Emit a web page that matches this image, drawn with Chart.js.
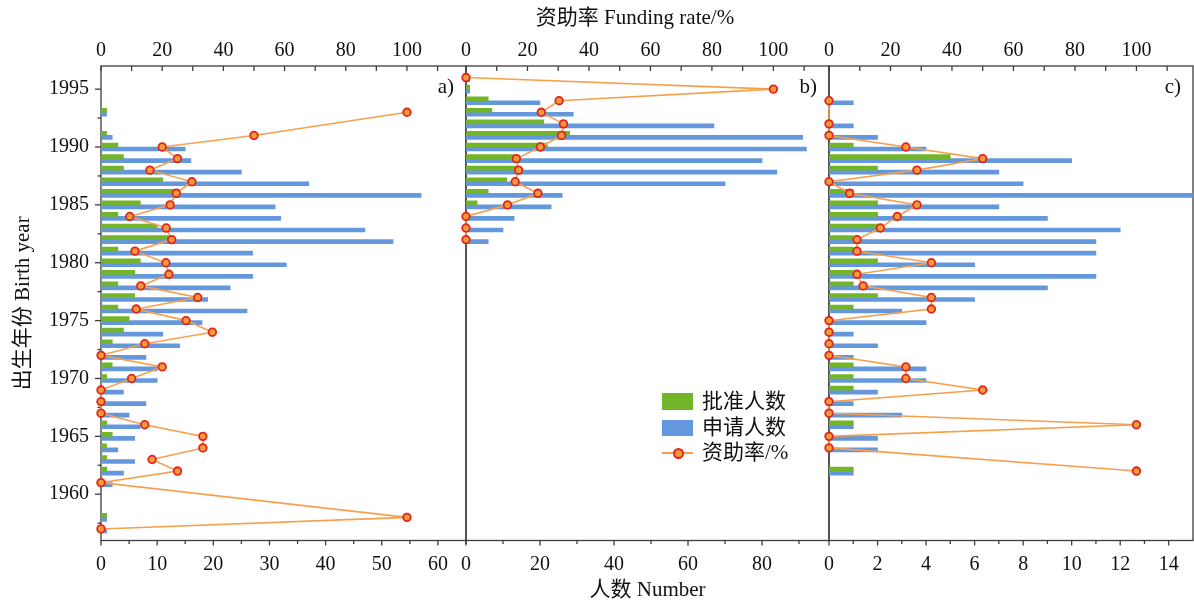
<!DOCTYPE html>
<html>
<head>
<meta charset="utf-8">
<title>资助率 Funding rate</title>
<script src="https://cdn.jsdelivr.net/npm/chart.js@4.4.1/dist/chart.umd.min.js"></script>
<style>
  body { margin: 0; background: #fff; overflow: hidden; }
  .wrap { position: relative; width: 1194px; height: 603px; font-family: 'Liberation Serif', 'Noto Sans CJK SC', serif; color: #111; }
  .wrap canvas { position: absolute; left: 0; top: 0; }
  .txt { position: absolute; white-space: nowrap; line-height: 1; font-size: 21px; }
  .box { position: absolute; width: 31px; }
</style>
</head>
<body>
<div class="wrap">
  <canvas id="pa" width="1194" height="603"></canvas>
  <canvas id="pb" width="1194" height="603"></canvas>
  <canvas id="pc" width="1194" height="603"></canvas>

  <div class="txt" style="left:635px; top:17px; transform:translate(-50%,-50%);">资助率 Funding rate/%</div>

  <!-- legend -->
  <div class="box" style="left:662px; top:393px; height:17px; background:#72b52b;"></div>
  <div class="txt" style="left:702px; top:391px;">批准人数</div>
  <div class="box" style="left:662px; top:420px; height:16px; background:#6597dd;"></div>
  <div class="txt" style="left:702px; top:417px;">申请人数</div>
  <div class="box" style="left:662px; top:452px; height:2px; background:#f6a04d;"></div>
  <div style="position:absolute; left:673px; top:448px; width:7px; height:7px; border-radius:50%; background:#f39a3a; border:2px solid #e2251c;"></div>
  <div class="txt" style="left:702px; top:442px;">资助率/%</div>
</div>

<script>
// a) birth years, approved count, applicants, funding rate %
const yearsA = [1957, 1958, 1961, 1962, 1963, 1964, 1965, 1966, 1967, 1968, 1969, 1970, 1971, 1972, 1973, 1974, 1975,
                1976, 1977, 1978, 1979, 1980, 1981, 1982, 1983, 1984, 1985, 1986, 1987, 1988, 1989, 1990, 1991, 1993];
const approvedA = [0, 1, 0, 1, 1, 1, 2, 1, 0, 0, 0, 1, 2, 0, 2, 4, 5, 3, 6, 3, 6, 7, 3, 12, 10, 3, 7, 14, 11, 4, 4, 3, 1, 1];
const appliedA = [1, 1, 2, 4, 6, 3, 6, 7, 5, 8, 4, 10, 10, 8, 14, 11, 18, 26, 19, 23, 27, 33, 27, 52, 47, 32, 31, 57, 37, 25, 16, 15, 2, 1];
const rateA = [0, 100, 0, 25, 16.7, 33.3, 33.3, 14.3, 0, 0, 0, 10, 20, 0, 14.3, 36.4, 27.8, 11.5, 31.6, 13, 22.2, 21.2,
               11.1, 23.1, 21.3, 9.4, 22.6, 24.6, 29.7, 16, 25, 20, 50, 100];

// b)
const yearsB = [1982, 1983, 1984, 1985, 1986, 1987, 1988, 1989, 1990, 1991, 1992, 1993, 1994, 1995, 1996];
const approvedB = [0, 0, 0, 3, 6, 11, 14, 13, 22, 28, 21, 7, 6, 1, 0];
const appliedB = [6, 10, 13, 23, 26, 70, 84, 80, 92, 91, 67, 29, 20, 1, 1];
const rateB = [0, 0, 0, 13.5, 23.4, 16, 17.1, 16.4, 24.2, 31.1, 31.7, 24.5, 30.3, 100, 0];

// c)
const yearsC = [1962, 1964, 1965, 1966, 1967, 1968, 1969, 1970, 1971, 1972, 1973, 1974, 1975, 1976, 1977, 1978,
                1979, 1980, 1981, 1982, 1983, 1984, 1985, 1986, 1987, 1988, 1989, 1990, 1991, 1992, 1994];
const approvedC = [1, 0, 0, 1, 0, 0, 1, 1, 1, 0, 0, 0, 0, 1, 2, 1, 1, 2, 1, 1, 2, 2, 2, 1, 0, 2, 5, 1, 0, 0, 0];
const appliedC = [1, 2, 2, 1, 3, 1, 2, 4, 4, 1, 2, 1, 4, 3, 6, 9, 11, 6, 11, 11, 12, 9, 7, 15, 8, 7, 10, 4, 2, 1, 1];
const rateC = [100, 0, 0, 100, 0, 0, 50, 25, 25, 0, 0, 0, 0, 33.3, 33.3, 11.1, 9.1, 33.3, 9.1, 9.1, 16.7, 22.2, 28.6,
               6.7, 0, 28.6, 50, 25, 0, 0, 0];

const yearTicks = [1960, 1965, 1970, 1975, 1980, 1985, 1990, 1995];
const rateTicks = [0, 20, 40, 60, 80, 100];

const GREEN = '#72b52b', BLUE = '#6597dd', ORANGE = '#f6a04d', RED = '#e2251c';
const FONT = "'Liberation Serif', 'Noto Sans CJK SC', serif";

function steps(a, b, s) {
  const out = [];
  for (let v = a; v <= b + 1e-9; v += s) out.push(+v.toFixed(2));
  return out;
}

// frame, tick marks (in/out, major/minor) and the a) b) c) tag
function framePlugin(p) {
  return {
    id: 'frame',
    beforeDatasetsDraw(chart) {
      const {ctx, chartArea: a, scales} = chart;
      ctx.save();
      ctx.strokeStyle = '#3c3c3c';
      ctx.lineWidth = 1.3;
      ctx.strokeRect(a.left, a.top, a.right - a.left, a.bottom - a.top);
      const mark = (side, scale, values, len) => {
        for (const v of values) {
          const q = scale.getPixelForValue(v);
          ctx.beginPath();
          if (side === 'left') { ctx.moveTo(a.left, q); ctx.lineTo(a.left - len, q); }
          else if (side === 'top') { ctx.moveTo(q, a.top); ctx.lineTo(q, a.top + len); }
          else { ctx.moveTo(q, a.bottom); ctx.lineTo(q, a.bottom + len); }
          ctx.stroke();
        }
      };
      if (p.yLabels) {
        mark('left', scales.y, yearTicks, 6);
        mark('left', scales.y, steps(1957.5, 1992.5, 5), 3.5);
      }
      mark('top', scales.x2, steps(0, 110, 10), 5);
      mark('bottom', scales.x, p.xTicks, 5);
      mark('bottom', scales.x, p.xMinor, 3.5);
      ctx.fillStyle = '#111';
      ctx.font = '21px ' + FONT;
      ctx.textAlign = 'right';
      ctx.textBaseline = 'middle';
      ctx.fillText(p.tag, a.right - 12, 87);
      ctx.restore();
    }
  };
}

function makePanel(id, p) {
  const pts = vals => p.years.map((y, i) => ({x: vals[i], y: y}));
  const tickFont = {family: FONT, size: 20};
  const noPad = (s, h) => { s.height = h; s.paddingLeft = 0; s.paddingRight = 0; };
  return new Chart(document.getElementById(id), {
    type: 'bar',
    data: {
      datasets: [
        {label: '批准人数', data: pts(p.approved), backgroundColor: GREEN, xAxisID: 'x', yAxisID: 'y', barThickness: 4, order: 1},
        {label: '申请人数', data: pts(p.applied), backgroundColor: BLUE, xAxisID: 'x', yAxisID: 'y', barThickness: 4, order: 2},
        {
          type: 'line', label: '资助率/%', data: pts(p.rate), xAxisID: 'x2', yAxisID: 'y', indexAxis: 'y',
          borderColor: ORANGE, borderWidth: 1.6, pointRadius: 3.8, pointBorderWidth: 1.8,
          pointBackgroundColor: '#f39a3a', pointBorderColor: RED, clip: false, order: 0
        }
      ]
    },
    options: {
      indexAxis: 'y',
      responsive: false,
      animation: false,
      layout: {autoPadding: false, padding: {left: p.padLeft, right: p.padRight, top: 0, bottom: 0}},
      plugins: {legend: {display: false}, tooltip: {enabled: false}},
      scales: {
        y: {
          type: 'linear', min: 1956, max: 1997, offset: false, display: p.yLabels,
          afterBuildTicks: s => { s.ticks = yearTicks.map(v => ({value: v})); },
          afterFit: s => { s.width = p.yLabels ? 101 : 0; s.paddingTop = 0; s.paddingBottom = 0; },
          grid: {display: false, drawTicks: false},
          border: {display: false},
          ticks: {font: tickFont, color: '#111', padding: 12, callback: v => String(v)},
          title: {display: true, text: '出生年份 Birth year', font: {family: FONT, size: 21}, color: '#111', padding: {top: 11, bottom: 0}}
        },
        x: {
          type: 'linear', position: 'bottom', min: 0, max: p.xMax,
          afterBuildTicks: s => { s.ticks = p.xTicks.map(v => ({value: v})); },
          afterFit: s => noPad(s, 62.5),
          grid: {display: false, drawTicks: false},
          border: {display: false},
          ticks: {font: tickFont, color: '#111', padding: 12, maxRotation: 0, callback: v => String(v)},
          title: {display: p.xTitle, text: '人数 Number', font: {family: FONT, size: 21}, color: '#111', padding: {top: 0, bottom: 0}}
        },
        x2: {
          type: 'linear', position: 'top', min: 0, max: p.rateMax,
          afterBuildTicks: s => { s.ticks = rateTicks.map(v => ({value: v})); },
          afterFit: s => noPad(s, 66),
          grid: {display: false, drawTicks: false},
          border: {display: false},
          ticks: {font: tickFont, color: '#111', padding: 3, maxRotation: 0, callback: v => String(v)}
        }
      }
    },
    plugins: [framePlugin(p)]
  });
}

makePanel('pa', {
  tag: 'a)', years: yearsA, approved: approvedA, applied: appliedA, rate: rateA,
  padLeft: 0, padRight: 728, yLabels: true, xTitle: false,
  xMax: 65, rateMax: 119.3, xTicks: steps(0, 60, 10), xMinor: steps(5, 65, 10)
});
makePanel('pb', {
  tag: 'b)', years: yearsB, approved: approvedB, applied: appliedB, rate: rateB,
  padLeft: 466, padRight: 365, yLabels: false, xTitle: true,
  xMax: 98.1, rateMax: 118.1, xTicks: steps(0, 80, 20), xMinor: steps(10, 90, 20)
});
makePanel('pc', {
  tag: 'c)', years: yearsC, approved: approvedC, applied: appliedC, rate: rateC,
  padLeft: 829, padRight: 1, yLabels: false, xTitle: false,
  xMax: 15, rateMax: 118.4, xTicks: steps(0, 14, 2), xMinor: steps(1, 13, 2)
});
</script>
</body>
</html>
